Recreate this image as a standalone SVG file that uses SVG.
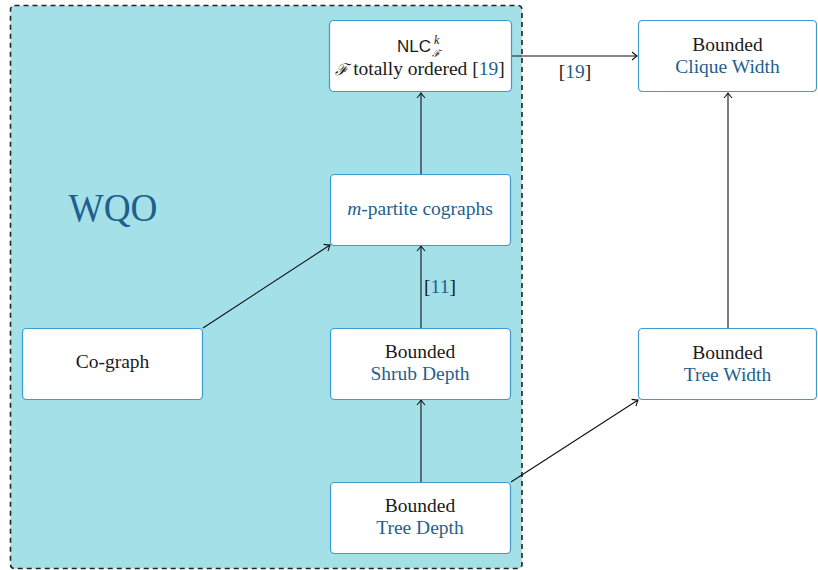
<svg xmlns="http://www.w3.org/2000/svg" width="818" height="570" viewBox="0 0 818 570">
<style>
.node{fill:#ffffff;stroke:#3d9bd4;stroke-width:1.2}
.t{font-size:19.5px;fill:#1a1a1a;text-anchor:middle}
.b{fill:#1f5f8e}
.edge{stroke:#111;stroke-width:1.1;fill:none;marker-end:url(#arr)}
</style>
<defs>
<marker id="arr" viewBox="-6 -5 8 10" markerWidth="8" markerHeight="10" refX="0" refY="0" orient="auto" markerUnits="userSpaceOnUse">
<path d="M-5,-4 Q-1.5,-1 0,0 Q-1.5,1 -5,4" fill="none" stroke="#111" stroke-width="1.1"/>
</marker>
</defs>
<g font-family="Liberation Serif, serif">
<rect id="wqo-region" x="10.5" y="5.5" width="511.5" height="563" rx="4" fill="#a4e0e8" stroke="#222" stroke-width="1.6" stroke-dasharray="5,4"/>
<text x="113" y="221" font-size="40" fill="#1f5f8e" text-anchor="middle" textLength="89" lengthAdjust="spacingAndGlyphs">WQO</text>
<g id="connectors">
<line class="edge" x1="512" y1="56" x2="637" y2="56"/>
<line class="edge" x1="421" y1="174" x2="421" y2="93"/>
<line class="edge" x1="421" y1="328" x2="421" y2="246"/>
<line class="edge" x1="203" y1="328" x2="330" y2="245"/>
<line class="edge" x1="421" y1="482" x2="421" y2="400"/>
<line class="edge" x1="511" y1="482" x2="638" y2="400"/>
<line class="edge" x1="728" y1="328" x2="728" y2="93"/>
<text class="t" x="575" y="78" font-family="Liberation Serif, serif">[<tspan class="b">19</tspan>]</text>
<text class="t" x="440" y="293" font-family="Liberation Serif, serif">[<tspan class="b">11</tspan>]</text>
</g>
<g id="nlc">
<rect class="node" x="329.5" y="20.5" width="182" height="71" rx="4"/>
<text x="397" y="52" font-family="Liberation Sans, sans-serif" font-size="17" fill="#1a1a1a">NLC</text>
<text x="434" y="44" font-family="Liberation Serif, serif" font-size="12" font-style="italic" fill="#1a1a1a">k</text>
<text x="432" y="57" font-family="DejaVu Serif, serif" font-size="10" font-style="italic" fill="#1a1a1a">ℱ</text>
<text class="t" x="420" y="75" font-family="Liberation Serif, serif"><tspan font-family="DejaVu Serif, serif" font-style="italic" font-size="16">ℱ</tspan> totally ordered [<tspan class="b">19</tspan>]</text>
</g>
<g id="clique">
<rect class="node" x="638.5" y="20.5" width="178" height="71" rx="4"/>
<text class="t" x="727.5" y="51" font-family="Liberation Serif, serif">Bounded</text>
<text class="t b" x="727.5" y="73" font-family="Liberation Serif, serif">Clique Width</text>
</g>
<g id="mpartite">
<rect class="node" x="330.5" y="174.5" width="180" height="71" rx="4"/>
<text class="t b" x="420" y="215" font-family="Liberation Serif, serif"><tspan font-style="italic">m</tspan>-partite cographs</text>
</g>
<g id="cograph">
<rect class="node" x="22.5" y="328.5" width="180" height="71" rx="4"/>
<text class="t" x="112.5" y="368" font-family="Liberation Serif, serif">Co-graph</text>
</g>
<g id="shrub">
<rect class="node" x="330.5" y="328.5" width="180" height="71" rx="4"/>
<text class="t" x="420" y="358" font-family="Liberation Serif, serif">Bounded</text>
<text class="t b" x="420" y="380" font-family="Liberation Serif, serif">Shrub Depth</text>
</g>
<g id="treewidth">
<rect class="node" x="638.5" y="328.5" width="178" height="71" rx="4"/>
<text class="t" x="727.5" y="359" font-family="Liberation Serif, serif">Bounded</text>
<text class="t b" x="727.5" y="381" font-family="Liberation Serif, serif">Tree Width</text>
</g>
<g id="treedepth">
<rect class="node" x="330.5" y="482.5" width="180" height="71" rx="4"/>
<text class="t" x="420" y="512" font-family="Liberation Serif, serif">Bounded</text>
<text class="t b" x="420" y="534" font-family="Liberation Serif, serif">Tree Depth</text>
</g>
</g>
</svg>
